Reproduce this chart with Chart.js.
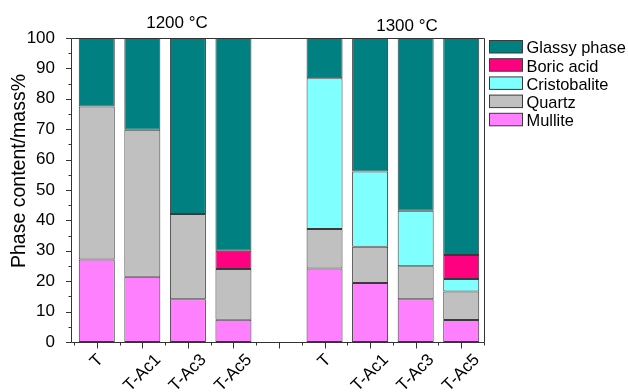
<!DOCTYPE html>
<html>
<head>
<meta charset="utf-8">
<script src="https://cdn.jsdelivr.net/npm/chart.js@4/dist/chart.umd.min.js"></script>
<style>
  html, body { margin: 0; padding: 0; background: #ffffff; }
  #wrap { width: 628px; height: 392px; }
</style>
</head>
<body>
<div id="wrap"><canvas id="c" width="628" height="392"></canvas></div>
<script>
// Sample names along the x axis (the empty slot separates the two firing temperatures)
const categories = ['T', 'T-Ac1', 'T-Ac3', 'T-Ac5', '', 'T', 'T-Ac1', 'T-Ac3', 'T-Ac5'];
const groupLabels = ['1200 °C', '1300 °C'];

// Phase contents in mass%, stacked from the bottom up
const mullite      = [27.1, 21.5, 14.1, 7.3, null, 24.2, 19.4, 14.1, 7.2];
const quartz       = [50.4, 48.3, 28.0, 16.7, null, 13.0, 11.9, 10.8, 9.4];
const cristobalite = [null, null, null, null, null, 49.6, 24.8, 18.3, 4.1];
const boricAcid    = [null, null, null, 6.0, null, null, null, null, 7.9];
const glassyPhase  = [22.5, 30.2, 57.9, 70.0, null, 13.2, 43.9, 56.8, 71.4];

// y axis ticks
const yTicks = [0, 10, 20, 30, 40, 50, 60, 70, 80, 90, 100];

const FONT = "'Liberation Sans', Arial, Helvetica, sans-serif";
const AXIS = '#333333';
const EDGE = '#3a3a3a';

function ds(label, data, color) {
  return {
    label, data,
    backgroundColor: color,
    borderColor: EDGE,
    borderWidth: 1,
    borderSkipped: false,
    barPercentage: 0.79,
    categoryPercentage: 1.0
  };
}

// Axes, frame, rotated sample names, temperature headers, y title and legend
const decorations = {
  id: 'decorations',
  afterDraw(chart) {
    const { ctx, chartArea: a } = chart;
    const xs = chart.scales.x, ys = chart.scales.y;
    const yAxisX = a.left - 2.5;
    ctx.save();
    ctx.strokeStyle = AXIS;
    ctx.lineWidth = 1;
    ctx.beginPath();
    // left axis
    ctx.moveTo(yAxisX, a.top + 0.5); ctx.lineTo(yAxisX, a.bottom + 0.5);
    // bottom axis
    ctx.moveTo(yAxisX, a.bottom + 0.5); ctx.lineTo(a.right + 0.5, a.bottom + 0.5);
    // top frame
    ctx.moveTo(yAxisX, a.top + 0.5); ctx.lineTo(a.right + 0.5, a.top + 0.5);
    // right frame
    ctx.moveTo(a.right + 0.5, a.top + 0.5); ctx.lineTo(a.right + 0.5, a.bottom + 0.5);
    // y ticks (major every 10, minor every 5)
    yTicks.forEach(v => {
      const py = Math.round(ys.getPixelForValue(v)) + 0.5;
      ctx.moveTo(yAxisX - 5.5, py); ctx.lineTo(yAxisX, py);
      if (v < 100) {
        const pm = Math.round(ys.getPixelForValue(v + 5)) + 0.5;
        ctx.moveTo(yAxisX - 3, pm); ctx.lineTo(yAxisX, pm);
      }
    });
    // x ticks (major at categories, minor at boundaries)
    const step = (a.right - a.left) / categories.length;
    categories.forEach((c, i) => {
      const px = Math.round(xs.getPixelForValue(i)) + 0.5;
      ctx.moveTo(px, a.bottom + 0.5); ctx.lineTo(px, a.bottom + 6.5);
    });
    for (let i = 0; i <= categories.length; i++) {
      const px = Math.round(a.left + i * step) + 0.5;
      ctx.moveTo(px, a.bottom + 0.5); ctx.lineTo(px, a.bottom + 3.5);
    }
    ctx.stroke();

    ctx.fillStyle = '#000';
    // rotated sample names: bounding box centred on the tick, top just below the axis
    ctx.font = '17px ' + FONT;
    ctx.textAlign = 'center';
    ctx.textBaseline = 'middle';
    categories.forEach((c, i) => {
      if (!c) return;
      const L = ctx.measureText(c).width;
      const s = (L + 12) * 0.3536;
      const cx = xs.getPixelForValue(i);
      const cy = a.bottom + 11 + s;
      ctx.save();
      ctx.translate(cx, cy);
      ctx.rotate(-Math.PI / 4);
      ctx.fillText(c, 0, 0);
      ctx.restore();
    });

    // temperature headers
    ctx.textBaseline = 'alphabetic';
    ctx.fillText(groupLabels[0], 177, 28);
    ctx.fillText(groupLabels[1], 407, 31);

    // y axis title
    ctx.save();
    ctx.font = '19.5px ' + FONT;
    ctx.translate(25, 171);
    ctx.rotate(-Math.PI / 2);
    ctx.textBaseline = 'alphabetic';
    ctx.fillText('Phase content/mass%', 0, 0);
    ctx.restore();

    // legend, top entry is the last stacked dataset
    ctx.font = '16.4px ' + FONT;
    ctx.textAlign = 'left';
    ctx.textBaseline = 'alphabetic';
    const sets = chart.data.datasets.slice().reverse();
    sets.forEach((d, i) => {
      const by = 40.5 + i * 18.2;
      ctx.fillStyle = d.backgroundColor;
      ctx.fillRect(489.5, by, 33, 12.5);
      ctx.strokeStyle = EDGE;
      ctx.strokeRect(489.5, by, 33, 12.5);
      ctx.fillStyle = '#000';
      ctx.fillText(d.label, 526.5, by + 12.8);
    });
    ctx.restore();
  }
};

new Chart(document.getElementById('c'), {
  type: 'bar',
  data: {
    labels: categories,
    datasets: [
      ds('Mullite', mullite, '#ff80ff'),
      ds('Quartz', quartz, '#c0c0c0'),
      ds('Cristobalite', cristobalite, '#80ffff'),
      ds('Boric acid', boricAcid, '#ff0080'),
      ds('Glassy phase', glassyPhase, '#008080')
    ]
  },
  options: {
    responsive: false,
    animation: false,
    devicePixelRatio: 1,
    layout: { padding: { top: 38, right: 144, bottom: 0, left: 0 } },
    plugins: {
      legend: { display: false },
      tooltip: { enabled: false }
    },
    scales: {
      x: {
        stacked: true,
        grid: { display: false },
        border: { display: false },
        ticks: { display: false },
        afterFit(scale) { scale.height = 50; }
      },
      y: {
        stacked: true,
        min: 0,
        max: 100,
        afterBuildTicks(scale) { scale.ticks = yTicks.map(v => ({ value: v })); },
        grid: { display: false },
        border: { display: false },
        ticks: {
          padding: 11,
          color: '#000',
          font: { family: FONT, size: 17 }
        },
        afterFit(scale) { scale.width = 74; }
      }
    }
  },
  plugins: [decorations]
});
</script>
</body>
</html>
